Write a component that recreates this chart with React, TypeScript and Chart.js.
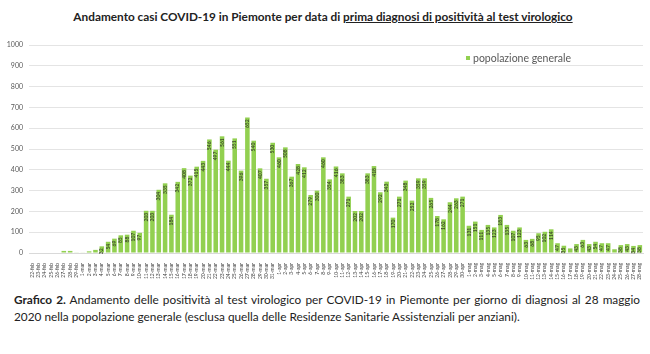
import React, { useEffect, useRef } from "react";
import { Chart, registerables } from "chart.js";

Chart.register(...registerables);

const FONT = "Lato, 'DejaVu Sans', sans-serif";
const BAR_COLOR = "#92d050";

const dateLabels: string[] = [
  "22-feb", "23-feb", "24-feb", "25-feb", "26-feb", "27-feb", "28-feb", "29-feb",
  "1-mar", "2-mar", "3-mar", "4-mar", "5-mar", "6-mar", "7-mar", "8-mar", "9-mar", "10-mar",
  "11-mar", "12-mar", "13-mar", "14-mar", "15-mar", "16-mar", "17-mar", "18-mar", "19-mar", "20-mar",
  "21-mar", "22-mar", "23-mar", "24-mar", "25-mar", "26-mar", "27-mar", "28-mar", "29-mar", "30-mar", "31-mar",
  "1-apr", "2-apr", "3-apr", "4-apr", "5-apr", "6-apr", "7-apr", "8-apr", "9-apr", "10-apr",
  "11-apr", "12-apr", "13-apr", "14-apr", "15-apr", "16-apr", "17-apr", "18-apr", "19-apr", "20-apr",
  "21-apr", "22-apr", "23-apr", "24-apr", "25-apr", "26-apr", "27-apr", "28-apr", "29-apr", "30-apr",
  "1-mag", "2-mag", "3-mag", "4-mag", "5-mag", "6-mag", "7-mag", "8-mag", "9-mag", "10-mag",
  "11-mag", "12-mag", "13-mag", "14-mag", "15-mag", "16-mag", "17-mag", "18-mag", "19-mag", "20-mag",
  "21-mag", "22-mag", "23-mag", "24-mag", "25-mag", "26-mag", "27-mag", "28-mag",
];

const popolazioneGenerale: number[] = [
  0, 0, 0, 0, 0, 10, 10, 3,
  2, 8, 15, 32, 54, 69, 85, 88, 107, 97,
  203, 203, 304, 335, 184, 342, 408, 372, 415, 443,
  546, 497, 561, 444, 551, 396, 652, 540, 407, 357, 530,
  460, 508, 367, 428, 412, 279, 300, 460, 354, 416,
  383, 271, 202, 202, 383, 418, 292, 343, 170, 271,
  348, 252, 359, 359, 265, 178, 162, 244, 263, 271,
  131, 151, 111, 135, 123, 183, 135, 107, 123, 63,
  68, 95, 102, 114, 47, 35, 22, 43, 63, 43,
  54, 47, 47, 18, 38, 43, 34, 38,
];

const yTicks: number[] = [0, 100, 200, 300, 400, 500, 600, 700, 800, 900, 1000];

const seriesName = "popolazione generale";
const titlePlain = "Andamento casi COVID-19 in Piemonte per data di ";
const titleUnderlined = "prima diagnosi di positività al test virologico";
const captionBold = "Grafico 2.";
const captionLine1 =
  " Andamento delle positività al test virologico per COVID-19 in Piemonte per giorno di diagnosi al 28 maggio";
const captionLine2 =
  "2020 nella popolazione generale (esclusa quella delle Residenze Sanitarie Assistenziali per anziani).";

const valueLabels = {
  id: "valueLabels",
  afterDatasetsDraw(chart: any) {
    const ctx = chart.ctx;
    const meta = chart.getDatasetMeta(0);
    const data = chart.data.datasets[0].data as number[];
    ctx.save();
    ctx.font = `bold 5px ${FONT}`;
    ctx.fillStyle = "#3d4a2a";
    ctx.textAlign = "right";
    ctx.textBaseline = "middle";
    meta.data.forEach((bar: any, i: number) => {
      const v = data[i];
      if (v < 25) return;
      ctx.save();
      ctx.translate(bar.x, bar.y + 2);
      ctx.rotate(-Math.PI / 2);
      ctx.fillText(String(v), 0, 0);
      ctx.restore();
    });
    ctx.restore();
  },
};

function BarChart() {
  const ref = useRef<HTMLCanvasElement | null>(null);
  useEffect(() => {
    if (!ref.current) return;
    const chart = new Chart(ref.current, {
      type: "bar",
      data: {
        labels: dateLabels,
        datasets: [
          {
            label: seriesName,
            data: popolazioneGenerale,
            backgroundColor: BAR_COLOR,
            borderWidth: 0,
            categoryPercentage: 1,
            barPercentage: 0.72,
          },
        ],
      },
      options: {
        responsive: false,
        animation: false,
        layout: { padding: { top: 15, right: 7, left: 0, bottom: 0 } },
        plugins: {
          legend: { display: false },
          tooltip: { enabled: false },
          title: { display: false },
        },
        scales: {
          x: {
            grid: { display: false },
            border: { display: true, color: "#d9d9d9", width: 1 },
            ticks: {
              autoSkip: false,
              minRotation: 90,
              maxRotation: 90,
              padding: 2,
              color: "#404040",
              font: { family: FONT, size: 5 },
            },
            afterFit: (scale: any) => {
              scale.height = 27;
            },
          },
          y: {
            min: 0,
            max: 1000,
            afterBuildTicks: (scale: any) => {
              scale.ticks = yTicks.map((v) => ({ value: v }));
            },
            grid: { color: "#e4e4e4", lineWidth: 1, drawTicks: false },
            border: { display: false },
            ticks: {
              padding: 6,
              color: "#595959",
              font: { family: FONT, size: 7 },
              callback: (value: any) => String(value),
            },
            afterFit: (scale: any) => {
              scale.width = 29;
            },
          },
        },
      },
      plugins: [valueLabels],
    });
    return () => chart.destroy();
  }, []);
  return <canvas ref={ref} width={650} height={250} style={{ display: "block", width: 650, height: 250 }} />;
}

export default function App() {
  return (
    <div
      style={{
        position: "absolute",
        left: 0,
        top: 0,
        width: 650,
        height: 354,
        background: "#ffffff",
        fontFamily: FONT,
        color: "#222222",
        overflow: "hidden",
      }}
    >
      <div
        style={{
          position: "absolute",
          top: 9,
          left: 0,
          width: 646,
          textAlign: "center",
          fontWeight: 700,
          fontSize: 11.8,
          lineHeight: "15px",
          whiteSpace: "nowrap",
        }}
      >
        {titlePlain}
        <span style={{ textDecoration: "underline" }}>{titleUnderlined}</span>
      </div>
      <div style={{ position: "absolute", left: 0, top: 30, width: 650, height: 250 }}>
        <BarChart />
      </div>
      <div
        style={{
          position: "absolute",
          left: 466,
          top: 52,
          height: 12,
          display: "flex",
          alignItems: "center",
          fontSize: 10.5,
          color: "#595959",
          whiteSpace: "nowrap",
        }}
      >
        <span style={{ display: "inline-block", width: 4, height: 4, background: BAR_COLOR, marginRight: 3 }} />
        {seriesName}
      </div>
      <div
        style={{
          position: "absolute",
          left: 14,
          top: 291,
          width: 626,
          fontSize: 11.8,
          lineHeight: "17px",
          color: "#222222",
        }}
      >
        <div style={{ textAlign: "justify", textAlignLast: "justify", whiteSpace: "normal" }}>
          <b>{captionBold}</b>
          {captionLine1}
        </div>
        <div style={{ whiteSpace: "nowrap" }}>{captionLine2}</div>
      </div>
    </div>
  );
}
